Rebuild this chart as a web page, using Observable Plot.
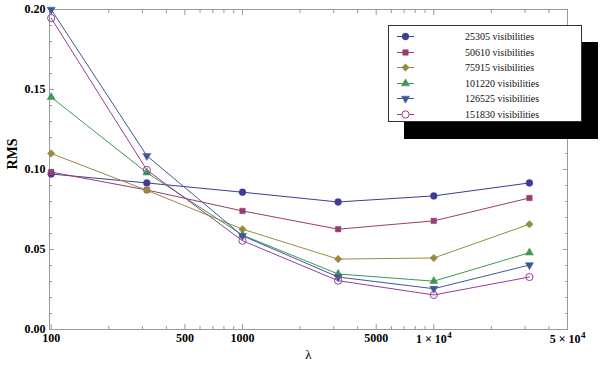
<!DOCTYPE html>
<html>
<head>
<meta charset="utf-8">
<script src="https://cdn.jsdelivr.net/npm/d3@7"></script>
<script src="https://cdn.jsdelivr.net/npm/@observablehq/plot@0.6"></script>
<style>
  body { margin: 0; background: #fff; }
  #wrap { position: relative; width: 600px; height: 368px; overflow: hidden; font-family: "Liberation Serif", "DejaVu Serif", serif; }
  #legend { position: absolute; left: 388px; top: 25px; width: 192px; height: 95px; background: #fff; border: 1px solid #333; box-shadow: 16px 17px 0 #000; }
  .row { position: absolute; left: 0; height: 15px; font-size: 10px; line-height: 15px; color: #111; }
  .row svg { position: absolute; left: 6px; top: 0; }
  .row span { position: absolute; left: 76px; white-space: nowrap; }
</style>
</head>
<body>
<div id="wrap"><div id="chart"></div><div id="legend"></div></div>
<script>
const lambdas = [100, 316.2, 1000, 3162, 10000, 31623];
const seriesNames = ["25305 visibilities", "50610 visibilities", "75915 visibilities", "101220 visibilities", "126525 visibilities", "151830 visibilities"];
const rms25305  = [0.0972, 0.0916, 0.0858, 0.0797, 0.0835, 0.0916];
const rms50610  = [0.0984, 0.0872, 0.0741, 0.0627, 0.0679, 0.0822];
const rms75915  = [0.1100, 0.0870, 0.0627, 0.0440, 0.0447, 0.0658];
const rms101220 = [0.1452, 0.0980, 0.0590, 0.0347, 0.0302, 0.0480];
const rms126525 = [0.2000, 0.1086, 0.0586, 0.0328, 0.0255, 0.0403];
const rms151830 = [0.1946, 0.0997, 0.0555, 0.0305, 0.0216, 0.0328];
const xTicks = [100, 500, 1000, 5000];
const xTickLabels = ["100", "500", "1000", "5000"];
const xSciTicks = [10000, 50000];
const xSciMantissa = ["1 \u00d7 10", "5 \u00d7 10"];
const xSciExponent = ["4", "4"];
const yTicks = [0, 0.05, 0.10, 0.15, 0.20];

const colors = ["#3d3d99", "#993d71", "#998b3d", "#3d9954", "#3d5899", "#993d99"];
const symbols = ["circle", "square", "diamond2", "triangle", "triangle", "circle"];
const sizes = [3.4, 3.1, 3.4, 3.0, 3.0, 3.6];
const rotations = [0, 0, 0, 0, 180, 0];
const filled = [true, true, true, true, true, false];
const allRms = [rms25305, rms50610, rms75915, rms101220, rms126525, rms151830];

const data = [];
allRms.forEach((arr, s) => arr.forEach((v, i) => data.push({lambda: lambdas[i], rms: v, s})));

const majorX = [...xTicks, ...xSciTicks];
const minorX = [];
for (let d = 100; d <= 10000; d *= 10) for (let k = 2; k <= 9; k++) if (k !== 5 && d * k <= 50000) minorX.push(d * k);
const minorY = d3.range(0, 0.2001, 0.01).filter(v => Math.abs(v * 20 - Math.round(v * 20)) > 1e-6);

const font = '"Liberation Serif", "DejaVu Serif", serif';
const gray = "#9a9a9a";
const chart = Plot.plot({
  width: 600, height: 368,
  marginLeft: 49, marginRight: 33, marginTop: 9, marginBottom: 39,
  style: {fontFamily: font, fontSize: "12px", color: "#000", background: "transparent"},
  x: {type: "log", domain: [98, 50000]},
  y: {domain: [0, 0.2]},
  marks: [
    Plot.frame({stroke: gray}),
    Plot.axisX({anchor: "bottom", ticks: majorX, tickSize: -5, stroke: gray, text: null, label: null}),
    Plot.axisX({anchor: "bottom", ticks: minorX, tickSize: -3, stroke: gray, text: null, label: null}),
    Plot.axisX({anchor: "top", ticks: majorX, tickSize: -5, stroke: gray, text: null, label: null}),
    Plot.axisX({anchor: "top", ticks: minorX, tickSize: -3, stroke: gray, text: null, label: null}),
    Plot.axisY({anchor: "left", ticks: yTicks, tickSize: -5, stroke: gray, text: null, label: null}),
    Plot.axisY({anchor: "left", ticks: minorY, tickSize: -3, stroke: gray, text: null, label: null}),
    Plot.axisY({anchor: "right", ticks: yTicks, tickSize: -5, stroke: gray, text: null, label: null}),
    Plot.axisY({anchor: "right", ticks: minorY, tickSize: -3, stroke: gray, text: null, label: null}),
    Plot.text(xTicks, {x: d => d, text: (d, i) => xTickLabels[i], frameAnchor: "bottom", dy: 12,
      fontWeight: "bold", fontSize: 12, fill: "#000"}),
    Plot.text(xSciTicks, {x: d => d, text: (d, i) => xSciMantissa[i], frameAnchor: "bottom", dy: 13, dx: 13,
      textAnchor: "end", fontWeight: "bold", fontSize: 12, fill: "#000"}),
    Plot.text(xSciTicks, {x: d => d, text: (d, i) => xSciExponent[i], frameAnchor: "bottom", dy: 8, dx: 13.5,
      textAnchor: "start", fontWeight: "bold", fontSize: 9, fill: "#000"}),
    Plot.axisY({anchor: "left", ticks: yTicks, tickSize: 0, tickPadding: 4, tickFormat: d3.format(".2f"),
      fontWeight: "bold", fontSize: 12, label: null}),
    Plot.text(["\u03bb"], {frameAnchor: "bottom", dy: 29, fontSize: 13, fill: "#000"}),
    Plot.text(["RMS"], {frameAnchor: "left", dx: -37, rotate: -90, fontSize: 14, fontWeight: "bold", fill: "#000"}),
    Plot.line(data, {x: "lambda", y: "rms", z: "s", stroke: d => colors[d.s], strokeWidth: 1}),
    ...allRms.map((arr, s) => Plot.dot(data.filter(d => d.s === s), {
      x: "lambda", y: "rms", symbol: () => symbols[s], rotate: rotations[s], r: sizes[s],
      fill: filled[s] ? colors[s] : "none", stroke: colors[s], strokeWidth: filled[s] ? 0.5 : 1
    }))
  ]
});
document.getElementById("chart").appendChild(chart);

// legend
const legend = document.getElementById("legend");
const d3sym = {circle: d3.symbolCircle, square: d3.symbolSquare, diamond2: d3.symbolDiamond2, triangle: d3.symbolTriangle};
seriesNames.forEach((name, s) => {
  const row = document.createElement("div");
  row.className = "row";
  row.style.top = (3 + s * 15.5) + "px";
  const svg = d3.create("svg").attr("width", 22).attr("height", 15);
  svg.append("line").attr("x1", 2).attr("x2", 19).attr("y1", 7.5).attr("y2", 7.5).attr("stroke", colors[s]).attr("stroke-width", 1);
  svg.append("path").attr("d", d3.symbol(d3sym[symbols[s]], Math.PI * sizes[s] * sizes[s])())
    .attr("transform", `translate(10.5,7.5) rotate(${rotations[s]})`)
    .attr("fill", filled[s] ? colors[s] : "#fff").attr("stroke", colors[s]).attr("stroke-width", filled[s] ? 0.5 : 1);
  row.appendChild(svg.node());
  const span = document.createElement("span");
  span.textContent = name;
  row.appendChild(span);
  legend.appendChild(row);
});
</script>
</body>
</html>
